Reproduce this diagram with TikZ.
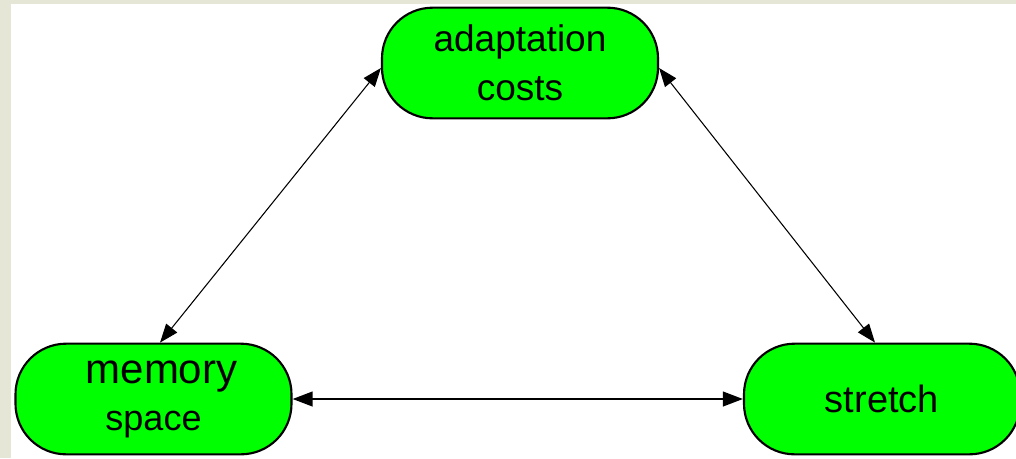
\documentclass[tikz,border=0pt]{standalone}
\usepackage{fontspec}
\setmainfont{Liberation Sans}
\usetikzlibrary{arrows.meta}
\definecolor{beige}{RGB}{230,230,214}
\definecolor{nodegreen}{RGB}{0,255,0}
\begin{document}
\begin{tikzpicture}[x=0.75pt,y=-0.75pt,
  concept/.style={draw=black,line width=1.6pt,fill=nodegreen,rounded corners=38pt,
    minimum width=207pt,minimum height=83pt,inner sep=0pt,align=center,text=black},
  link/.style={line width=0.8pt,{Triangle[length=14pt,width=10.5pt]}-{Triangle[length=14pt,width=10.5pt]}},
  hlink/.style={line width=1.5pt,{Triangle[length=15pt,width=11pt]}-{Triangle[length=15pt,width=11pt]}}]
\clip (0,0) rectangle (1016,458);
\fill[beige] (0,0) rectangle (1016,458);
\fill[white] (11,4) rectangle (1016,458);
\node[concept,font=\fontsize{27.75pt}{36.75pt}\selectfont] (a) at (520,63) {adaptation\\costs};
\node[concept,font=\fontsize{27pt}{35.25pt}\selectfont] (m) at (153.5,399) {{\fontsize{31.5pt}{35.25pt}\selectfont\kern12pt memory}\\space};
\node[concept,font=\fontsize{28.5pt}{34pt}\selectfont] (s) at (882,399) {stretch};
\draw[link] ([yshift=-3.75pt]a.west) -- ([xshift=4.9pt]m.north);
\draw[link] ([yshift=-3.75pt]a.east) -- ([xshift=-5.25pt]s.north);
\draw[hlink] (m.east) -- (s.west);
\end{tikzpicture}
\end{document}
